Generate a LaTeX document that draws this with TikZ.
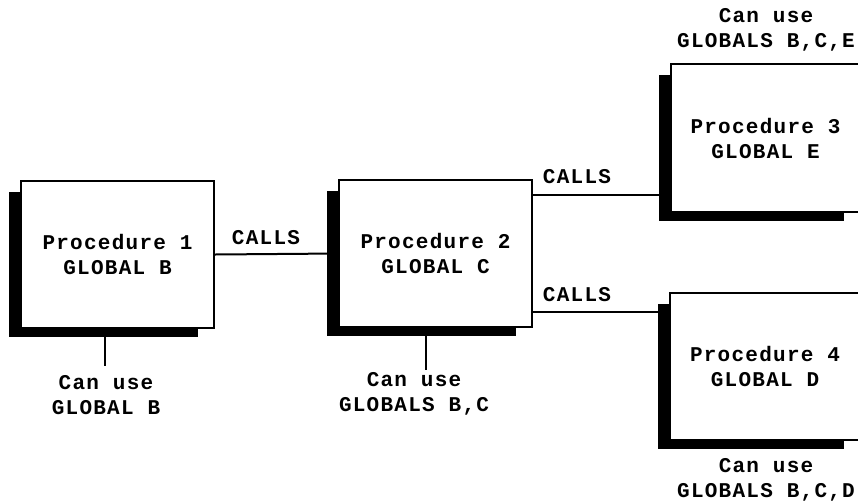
\documentclass[tikz,border=0pt]{standalone}
\usepackage{fontspec}
\setmonofont{Liberation Mono}[LetterSpace=6]
\usetikzlibrary{calc,backgrounds}
\begin{document}
\begin{tikzpicture}[x=1pt,y=-1pt,
  txt/.style={font=\ttfamily\bfseries\fontsize{21}{25}\selectfont, align=center, inner sep=0pt},
  procbox/.style={txt, draw, line width=2pt, fill=white, minimum width=193pt, minimum height=147pt},
  conn/.style={line width=2pt}]
\useasboundingbox (0,0) rectangle (858,501);
% boxes
\node[procbox] (p1) at (117.5,254.5) {Procedure 1\\GLOBAL B};
\node[procbox] (p2) at (435.5,253.5) {Procedure 2\\GLOBAL C};
\node[procbox, minimum width=189pt, minimum height=148pt] (p3) at (765.5,138) {Procedure 3\\GLOBAL E};
\node[procbox, minimum width=190pt, minimum height=147pt] (p4) at (765,366.5) {Procedure 4\\GLOBAL D};
% shadows behind the boxes
\begin{scope}[on background layer]
\fill[white] (0,0) rectangle (858,501);
\foreach \b in {p1,p2,p3,p4}{
  \fill[black] ($(\b.north west)+(-11,12)$) rectangle ($(\b.south east)+(-17,8)$);
}
\end{scope}
% connectors
\draw[conn] (p1.east) -- (p2.west);
\draw[conn] ([yshift=58.5pt]p2.east) -- ([yshift=58.5pt]p2.east -| p3.west);
\draw[conn] ([yshift=-58.5pt]p2.east) -- ([yshift=-58.5pt]p2.east -| p4.west);
% labels
\node[txt] (c1) at (266,238) {CALLS};
\node[txt] (c2) at (577,177) {CALLS};
\node[txt] (c3) at (577,295) {CALLS};
\node[txt] (u1) at (106,395) {Can use\\GLOBAL B};
\node[txt] (u2) at (414,394) {Can use\\GLOBALS B,C};
\node[txt] (u3) at (766,30) {Can use\\GLOBALS B,C,E};
\node[txt] (u4) at (766,480) {Can use\\GLOBALS B,C,D};
% stems
\coordinate (s1) at (105,366);
\coordinate (s2) at (426,370);
\draw[conn] (s1 |- p1.south) ++(0,8) -- (s1);
\draw[conn] (s2 |- p2.south) ++(0,8) -- (s2);
\end{tikzpicture}
\end{document}
